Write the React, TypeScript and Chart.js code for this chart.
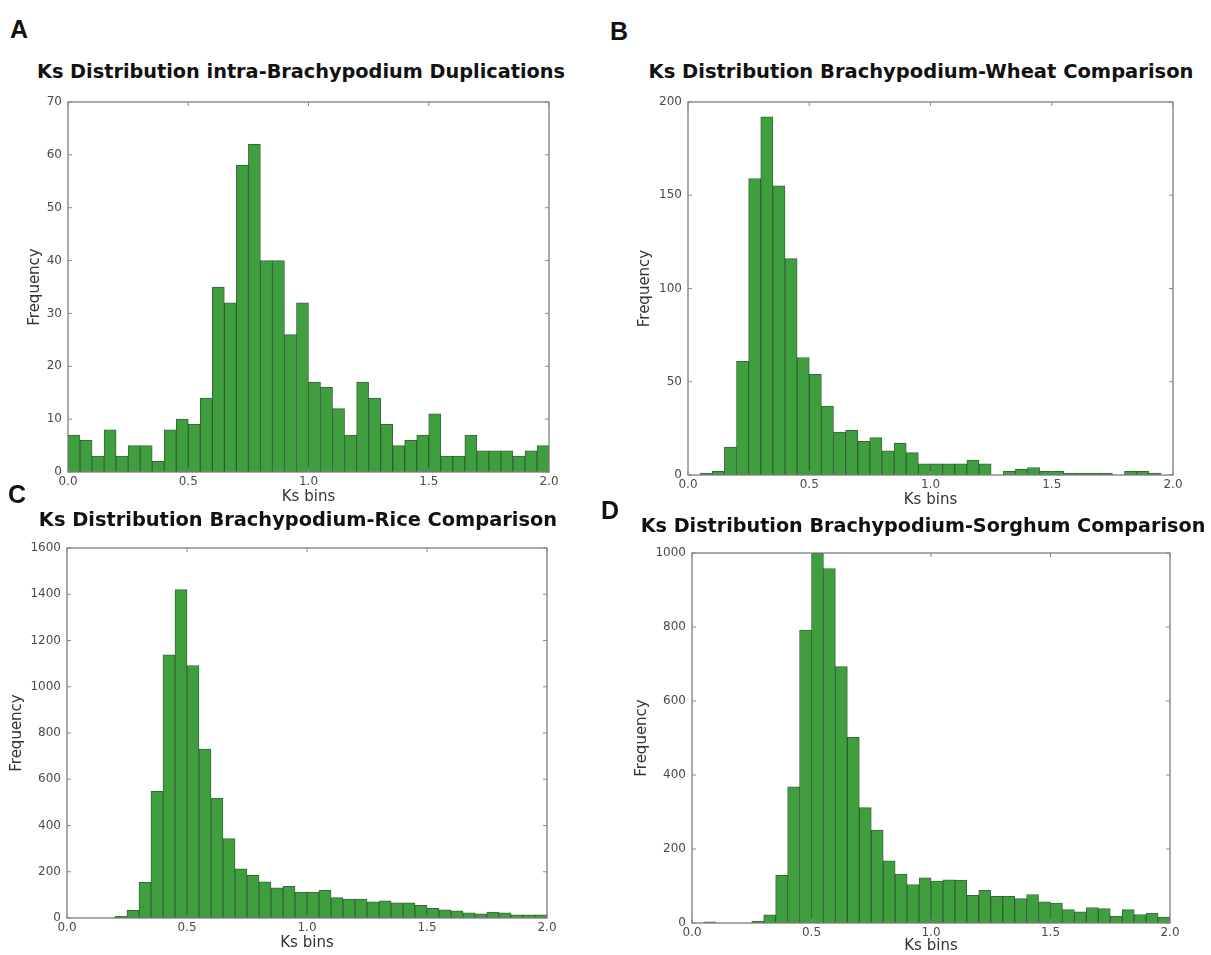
import React, { useEffect, useRef } from "react";
import { Chart, registerables } from "chart.js";

Chart.register(...registerables);

// 40 histogram bins of width 0.05 (bin start values)
const BIN_LABELS = [
  "0.00", "0.05", "0.10", "0.15", "0.20", "0.25", "0.30", "0.35", "0.40", "0.45",
  "0.50", "0.55", "0.60", "0.65", "0.70", "0.75", "0.80", "0.85", "0.90", "0.95",
  "1.00", "1.05", "1.10", "1.15", "1.20", "1.25", "1.30", "1.35", "1.40", "1.45",
  "1.50", "1.55", "1.60", "1.65", "1.70", "1.75", "1.80", "1.85", "1.90", "1.95",
];

const X_TICKS = [0, 0.5, 1.0, 1.5, 2.0];

const intraBrachypodium = [
  7, 6, 3, 8, 3, 5, 5, 2, 8, 10, 9, 14, 35, 32, 58, 62, 40, 40, 26, 32,
  17, 16, 12, 7, 17, 14, 9, 5, 6, 7, 11, 3, 3, 7, 4, 4, 4, 3, 4, 5,
];

const brachyWheat = [
  0, 1, 2, 15, 61, 159, 192, 155, 116, 63, 54, 37, 23, 24, 18, 20, 13, 17, 12, 6,
  6, 6, 6, 8, 6, 0, 2, 3, 4, 2, 2, 1, 1, 1, 1, 0, 2, 2, 1, 0,
];

const brachyRice = [
  0, 0, 0, 0, 7, 33, 154, 548, 1138, 1420, 1092, 730, 519, 343, 213, 184, 156, 130, 137, 112,
  112, 120, 88, 82, 82, 70, 74, 66, 66, 55, 42, 35, 31, 22, 18, 26, 22, 14, 14, 14,
];

const brachySorghum = [
  0, 3, 0, 0, 0, 5, 22, 129, 368, 792, 1000, 958, 693, 502, 312, 251, 168, 132, 104, 122,
  113, 117, 116, 75, 88, 72, 72, 66, 77, 57, 54, 36, 30, 42, 39, 19, 36, 23, 27, 16,
];

const TITLES = [
  "Ks Distribution intra-Brachypodium Duplications",
  "Ks Distribution Brachypodium-Wheat Comparison",
  "Ks Distribution Brachypodium-Rice Comparison",
  "Ks Distribution Brachypodium-Sorghum Comparison",
];
const LETTERS = ["A", "B", "C", "D"];

const FONT = "'DejaVu Sans', 'Liberation Sans', sans-serif";
const AXIS_TITLE_SIZE = 15;
const AXIS_LH = AXIS_TITLE_SIZE * 1.2;

type Panel = {
  data: number[];
  yMax: number;
  yStep: number;
  cl: number; ct: number; cw: number; ch: number;
  L: number; T: number; R: number; B: number;
  freqX: number; ksY: number;
};

const PANELS: Panel[] = [
  { data: intraBrachypodium, yMax: 70, yStep: 10, cl: 0, ct: 85, cw: 600, ch: 430, L: 68, T: 102, R: 549, B: 472, freqX: 35, ksY: 497 },
  { data: brachyWheat, yMax: 200, yStep: 50, cl: 600, ct: 85, cw: 611, ch: 430, L: 688, T: 102, R: 1173, B: 475, freqX: 645, ksY: 500 },
  { data: brachyRice, yMax: 1600, yStep: 200, cl: 0, ct: 530, cw: 600, ch: 425, L: 67, T: 548, R: 547, B: 918, freqX: 17, ksY: 943 },
  { data: brachySorghum, yMax: 1000, yStep: 200, cl: 600, ct: 535, cw: 611, ch: 420, L: 692, T: 553, R: 1170, B: 923, freqX: 642, ksY: 946 },
];

const TITLE_POS = [
  { x: 301, y: 72, size: 19.3 },
  { x: 921, y: 72, size: 19.5 },
  { x: 298, y: 520, size: 19.4 },
  { x: 923, y: 526, size: 19.2 },
];

const LETTER_POS = [
  { x: 10, y: 17 },
  { x: 610, y: 19 },
  { x: 8, y: 482 },
  { x: 601, y: 498 },
];

const framePlugin = {
  id: "mplFrame",
  afterDraw(chart: any) {
    const { ctx, chartArea: a } = chart;
    ctx.save();
    ctx.strokeStyle = "#7d7d7d";
    ctx.lineWidth = 1.3;
    ctx.strokeRect(a.left, a.top, a.right - a.left, a.bottom - a.top);
    ctx.lineWidth = 1;
    ctx.strokeStyle = "#8a8a8a";
    const ys = chart.scales.y;
    const xs = chart.scales.x2;
    const seg = (x1: number, y1: number, x2: number, y2: number) => {
      ctx.beginPath();
      ctx.moveTo(x1, y1);
      ctx.lineTo(x2, y2);
      ctx.stroke();
    };
    ys.ticks.forEach((t: any) => {
      const py = ys.getPixelForValue(t.value);
      seg(a.left, py, a.left + 4, py);
      seg(a.right, py, a.right - 4, py);
    });
    xs.ticks.forEach((t: any) => {
      const px = xs.getPixelForValue(t.value);
      seg(px, a.bottom, px, a.bottom - 4);
      seg(px, a.top, px, a.top + 4);
    });
    ctx.restore();
  },
};

function HistPanel({ p }: { p: Panel }) {
  const ref = useRef<HTMLCanvasElement | null>(null);
  useEffect(() => {
    if (!ref.current) return;
    const yBoxLeft = p.freqX - AXIS_LH / 2;
    const yWidth = p.L - yBoxLeft;
    const xHeight = p.ksY + AXIS_LH / 2 - p.B;
    const padding = {
      left: yBoxLeft - p.cl,
      top: p.T - p.ct,
      right: p.cl + p.cw - p.R,
      bottom: Math.max(0, p.ct + p.ch - (p.B + xHeight)),
    };
    const tickFont = { family: FONT, size: 12 };
    const titleFont = { family: FONT, size: AXIS_TITLE_SIZE, lineHeight: 1.2 };
    const chart = new Chart(ref.current, {
      type: "bar",
      data: {
        labels: BIN_LABELS,
        datasets: [
          {
            data: p.data,
            backgroundColor: "#3f9f3f",
            borderColor: "rgba(25,75,25,0.85)",
            borderWidth: 1,
            barPercentage: 1,
            categoryPercentage: 1,
            xAxisID: "x",
            yAxisID: "y",
          },
        ],
      },
      options: {
        animation: false,
        responsive: false,
        maintainAspectRatio: false,
        layout: { padding },
        plugins: { legend: { display: false }, tooltip: { enabled: false }, title: { display: false } },
        scales: {
          x: { type: "category", display: false, offset: true, grid: { display: false } },
          x2: {
            type: "linear",
            position: "bottom",
            offset: false,
            min: 0,
            max: 2,
            afterBuildTicks: (s: any) => {
              s.ticks = X_TICKS.map((v) => ({ value: v }));
            },
            ticks: {
              font: tickFont,
              color: "#4a4a4a",
              padding: 3,
              maxRotation: 0,
              autoSkip: false,
              callback: (v: any) => Number(v).toFixed(1),
            },
            grid: { display: false, drawTicks: false, offset: false },
            border: { display: false },
            title: { display: true, text: "Ks bins", font: titleFont, color: "#333", padding: 0 },
            afterFit: (s: any) => {
              s.height = xHeight;
              s.paddingLeft = 0;
              s.paddingRight = 0;
              s.paddingTop = 0;
              s.paddingBottom = 0;
            },
          },
          y: {
            type: "linear",
            min: 0,
            max: p.yMax,
            ticks: {
              stepSize: p.yStep,
              font: tickFont,
              color: "#4a4a4a",
              padding: 6,
              callback: (v: any) => String(v),
            },
            grid: { display: false, drawTicks: false },
            border: { display: false },
            title: { display: true, text: "Frequency", font: titleFont, color: "#333", padding: 0 },
            afterFit: (s: any) => {
              s.width = yWidth;
              s.paddingTop = 0;
              s.paddingBottom = 0;
              s.paddingLeft = 0;
              s.paddingRight = 0;
            },
          },
        },
      } as any,
      plugins: [framePlugin],
    });
    return () => chart.destroy();
  }, [p]);
  return (
    <canvas
      ref={ref}
      width={p.cw}
      height={p.ch}
      style={{ position: "absolute", left: p.cl, top: p.ct, width: p.cw, height: p.ch }}
    />
  );
}

export default function App() {
  return (
    <div
      style={{
        position: "absolute",
        left: 0,
        top: 0,
        width: 1211,
        height: 955,
        background: "#ffffff",
        overflow: "hidden",
      }}
    >
      {PANELS.map((p, i) => (
        <HistPanel key={i} p={p} />
      ))}
      {TITLES.map((t, i) => (
        <div
          key={"t" + i}
          style={{
            position: "absolute",
            left: TITLE_POS[i].x,
            top: TITLE_POS[i].y,
            transform: "translate(-50%, -50%)",
            whiteSpace: "nowrap",
            fontFamily: FONT,
            fontWeight: "bold",
            fontSize: TITLE_POS[i].size,
            lineHeight: 1,
            color: "#111",
          }}
        >
          {t}
        </div>
      ))}
      {LETTERS.map((l, i) => (
        <div
          key={"l" + i}
          style={{
            position: "absolute",
            left: LETTER_POS[i].x,
            top: LETTER_POS[i].y,
            fontFamily: "'Liberation Sans', Arial, sans-serif",
            fontWeight: "bold",
            fontSize: 25,
            lineHeight: 1,
            color: "#111",
          }}
        >
          {l}
        </div>
      ))}
    </div>
  );
}
